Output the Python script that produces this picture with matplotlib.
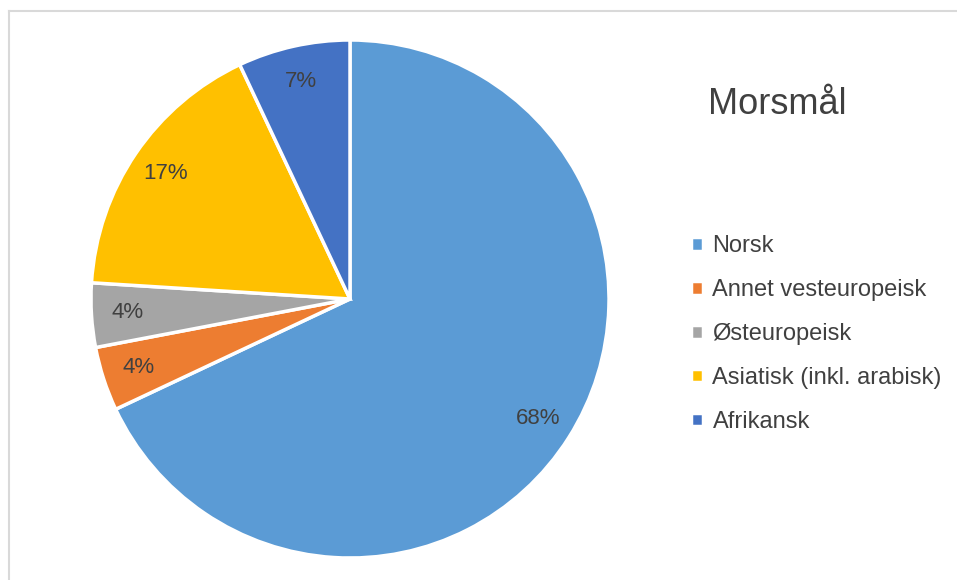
import matplotlib
matplotlib.use('Agg')
import matplotlib.pyplot as plt
from matplotlib.lines import Line2D

plt.rcParams['font.family'] = ['Liberation Sans', 'DejaVu Sans']

categories = ['Norsk', 'Annet vesteuropeisk', 'Østeuropeisk',
              'Asiatisk (inkl. arabisk)', 'Afrikansk']
values = [68, 4, 4, 17, 7]
colors = ['#5B9BD5', '#ED7D31', '#A5A5A5', '#FFC000', '#4472C4']
text_color = '#404040'

fig = plt.figure(figsize=(9.57, 5.80), dpi=100)

# light grey frame, only top and left edges visible
fig.add_artist(Line2D([8.5 / 957, 8.5 / 957], [0, 1 - 10.5 / 580],
                      transform=fig.transFigure, color='#D9D9D9', lw=1.5))
fig.add_artist(Line2D([8.5 / 957, 1], [1 - 10.5 / 580, 1 - 10.5 / 580],
                      transform=fig.transFigure, color='#D9D9D9', lw=1.5))

ax = fig.add_axes([90 / 957, 22 / 580, 520 / 957, 518 / 580])
wedges, texts, autotexts = ax.pie(
    values, colors=colors, startangle=90, counterclock=False,
    autopct='%1.0f%%', pctdistance=0.86,
    wedgeprops=dict(edgecolor='white', linewidth=2.5),
    textprops=dict(color=text_color, fontsize=16))
ax.set_xlim(-1.0, 1.0)
ax.set_ylim(-1.0, 1.0)
ax.set_aspect('equal')

fig.text(777 / 957, 1 - 104 / 580, 'Morsmål', ha='center', va='center',
         fontsize=26, color=text_color)

fig.legend(wedges, categories, loc='upper left',
           bbox_to_anchor=(670 / 957, 1 - 214 / 580),
           frameon=False, fontsize=17, labelcolor=text_color,
           handlelength=0.5, handleheight=0.5, handletextpad=0.4,
           labelspacing=0.93)

plt.savefig('out.png', dpi=100)
plt.close()
